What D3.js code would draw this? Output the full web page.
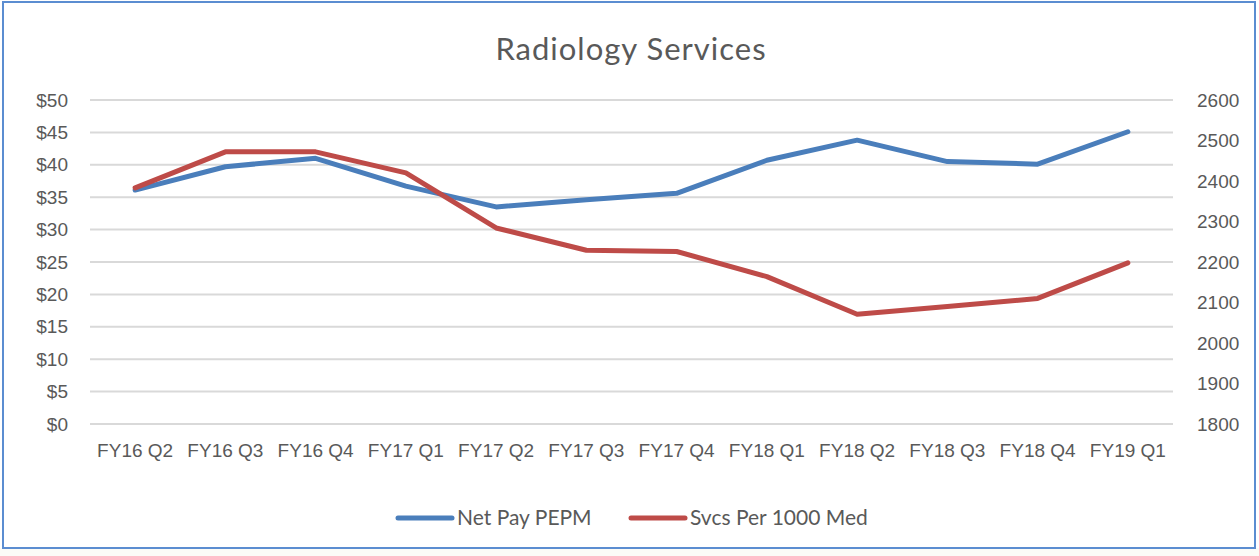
<!DOCTYPE html>
<html>
<head>
<meta charset="utf-8">
<script src="https://cdn.jsdelivr.net/npm/d3@7"></script>
<style>
  body { margin: 0; background: #fff; }
  svg { display: block; font-family: Lato, "Open Sans", sans-serif; }
</style>
</head>
<body>
<div id="chart"></div>
<script>
// quarters on the x axis
var quarters = ["FY16 Q2", "FY16 Q3", "FY16 Q4", "FY17 Q1", "FY17 Q2", "FY17 Q3",
    "FY17 Q4", "FY18 Q1", "FY18 Q2", "FY18 Q3", "FY18 Q4", "FY19 Q1"];
// left axis series ($)
var netPay = [36.1, 39.7, 41.0, 36.7, 33.5, 34.6, 35.6, 40.7, 43.8, 40.5, 40.1, 45.1];
// right axis series
var svcsPer1000 = [2383, 2472, 2472, 2420, 2284, 2229, 2226, 2164, 2071, 2090, 2110, 2198];
var leftTicks = [0, 5, 10, 15, 20, 25, 30, 35, 40, 45, 50];
var rightTicks = [1800, 1900, 2000, 2100, 2200, 2300, 2400, 2500, 2600];

var width = 1259, height = 556;
var margin = { top: 100, right: 86, bottom: 132, left: 90 };

var svg = d3.select("#chart").append("svg")
    .attr("width", width)
    .attr("height", height);

// background + frame
svg.append("rect").attr("x", 0).attr("y", 548).attr("width", width).attr("height", 8).attr("fill", "#fbfbf7");
svg.append("rect")
    .attr("x", 3).attr("y", 2).attr("width", 1252).attr("height", 546)
    .attr("fill", "#fff").attr("stroke", "#5b8dd1").attr("stroke-width", 2);

var x = d3.scaleBand()
    .domain(quarters)
    .range([margin.left, width - margin.right]);

var yL = d3.scaleLinear().domain([0, 50]).range([height - margin.bottom, margin.top]);
var yR = d3.scaleLinear().domain([1800, 2600]).range([height - margin.bottom, margin.top]);

// gridlines
svg.append("g")
    .selectAll("line")
    .data(leftTicks)
    .join("line")
    .attr("x1", margin.left)
    .attr("x2", width - margin.right)
    .attr("y1", function (d) { return yL(d); })
    .attr("y2", function (d) { return yL(d); })
    .attr("stroke", "#d9d9d9")
    .attr("stroke-width", 2);

// left axis
var leftAxis = svg.append("g")
    .attr("transform", `translate(${margin.left - 22},0)`)
    .call(d3.axisLeft(yL).tickValues(leftTicks).tickSize(0).tickPadding(0).tickFormat(function (d) { return "$" + d; }));
leftAxis.select(".domain").remove();
leftAxis.selectAll("text").style("font-size", "19px").attr("fill", "#595959");

// right axis
var rightAxis = svg.append("g")
    .attr("transform", `translate(${width - margin.right + 24},0)`)
    .call(d3.axisRight(yR).tickValues(rightTicks).tickSize(0).tickPadding(0).tickFormat(d3.format("d")));
rightAxis.select(".domain").remove();
rightAxis.selectAll("text").style("font-size", "19px").attr("fill", "#595959");

// bottom axis
var bottomAxis = svg.append("g")
    .attr("transform", `translate(0,${height - margin.bottom})`)
    .call(d3.axisBottom(x).tickSize(0).tickPadding(20));
bottomAxis.select(".domain").remove();
bottomAxis.selectAll("text").style("font-size", "19px").attr("fill", "#595959");

// lines
var lineL = d3.line()
    .x(function (d, i) { return x(quarters[i]) + x.bandwidth() / 2; })
    .y(function (d) { return yL(d); });
var lineR = d3.line()
    .x(function (d, i) { return x(quarters[i]) + x.bandwidth() / 2; })
    .y(function (d) { return yR(d); });

svg.append("path")
    .datum(netPay)
    .attr("d", lineL)
    .attr("fill", "none")
    .attr("stroke", "#4a7ebb")
    .attr("stroke-width", 5)
    .attr("stroke-linejoin", "round")
    .attr("stroke-linecap", "round");

svg.append("path")
    .datum(svcsPer1000)
    .attr("d", lineR)
    .attr("fill", "none")
    .attr("stroke", "#be4b48")
    .attr("stroke-width", 5)
    .attr("stroke-linejoin", "round")
    .attr("stroke-linecap", "round");

// title
svg.append("text")
    .attr("x", 631)
    .attr("y", 60)
    .attr("text-anchor", "middle")
    .style("font-size", "31px")
    .style("letter-spacing", "1px")
    .attr("fill", "#595959")
    .text("Radiology Services");

// legend
var legendItems = [
    { name: "Net Pay PEPM", color: "#4a7ebb", x: 398 },
    { name: "Svcs Per 1000 Med", color: "#be4b48", x: 631 }
];
var legend = svg.append("g");
legendItems.forEach(function (item) {
    legend.append("line")
        .attr("x1", item.x).attr("x2", item.x + 54)
        .attr("y1", 518).attr("y2", 518)
        .attr("stroke", item.color)
        .attr("stroke-width", 5)
        .attr("stroke-linecap", "round");
    legend.append("text")
        .attr("x", item.x + 59)
        .attr("y", 525)
        .style("font-size", "21px")
        .attr("fill", "#595959")
        .text(item.name);
});
</script>
</body>
</html>
